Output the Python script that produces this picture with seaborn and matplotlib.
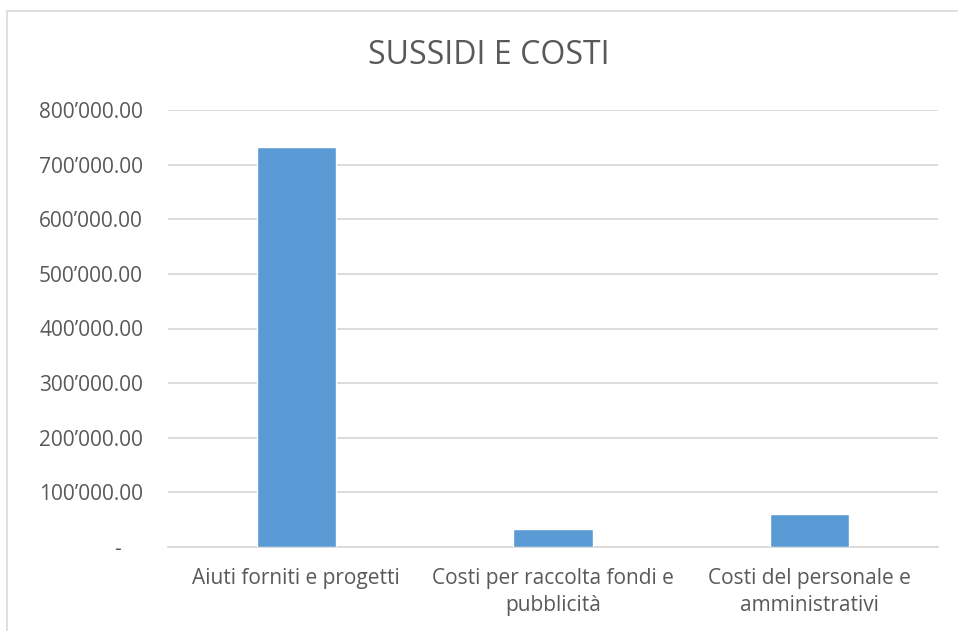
import matplotlib
matplotlib.use("Agg")
import matplotlib.pyplot as plt
import seaborn as sns
import pandas as pd
from matplotlib.patches import Rectangle
from matplotlib.ticker import FuncFormatter

categories = ["Aiuti forniti e progetti",
              "Costi per raccolta fondi e\npubblicità",
              "Costi del personale e\namministrativi"]
values = [732000, 33000, 60500]
yticks = [0, 100000, 200000, 300000, 400000, 500000, 600000, 700000, 800000]

sns.set_theme(style="white")
plt.rcParams['font.family'] = ['Open Sans', 'DejaVu Sans']

grey = "#595959"
df = pd.DataFrame({"cat": categories, "val": values})

fig = plt.figure(figsize=(9.58, 6.31), dpi=100)
ax = fig.add_axes([168 / 958, 1 - 547 / 631, (938 - 168) / 958, (547 - 110) / 631])

# chart frame, cropped at right and bottom like the source
fig.patches.append(Rectangle((7 / 958, -0.05), 1.1, 1 - 11 / 631 + 0.05,
                             transform=fig.transFigure, fill=False,
                             edgecolor="#d9d9d9", linewidth=1.2))

sns.barplot(data=df, x="cat", y="val", color="#5b9bd5", width=0.31,
            saturation=1, ax=ax, zorder=3)

ax.set_ylim(0, 800000)
ax.set_yticks(yticks)
ax.yaxis.set_major_formatter(FuncFormatter(
    lambda v, p: "-    " if v == 0 else f"{v:,.2f}".replace(",", "\u2019")))
ax.grid(axis="y", color="#d9d9d9", linewidth=1.3, zorder=0)
for s in ["left", "right", "top"]:
    ax.spines[s].set_visible(False)
ax.spines["bottom"].set_color("#d9d9d9")
ax.spines["bottom"].set_linewidth(1.3)
ax.tick_params(axis="both", length=0, colors=grey, labelsize=15)
ax.tick_params(axis="y", pad=18)
ax.tick_params(axis="x", pad=15)
for lbl in ax.get_xticklabels():
    lbl.set_horizontalalignment("center")
    lbl.set_multialignment("center")
    lbl.set_linespacing(1.4)
ax.set_xlabel("")
ax.set_ylabel("")

fig.text(489 / 958, 1 - 55 / 631, "SUSSIDI E COSTI", ha="center", va="center",
         fontsize=23, color=grey)

fig.savefig("out.png", dpi=100)
